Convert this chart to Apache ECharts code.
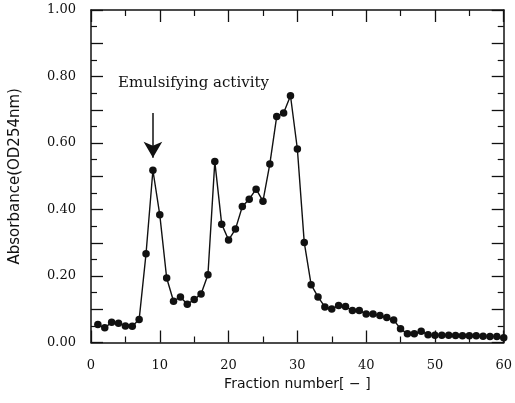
<!DOCTYPE html>
<html>
<head>
<meta charset="utf-8">
<script src="https://cdn.jsdelivr.net/npm/echarts@6/dist/echarts.min.js"></script>
<style>
html,body{margin:0;padding:0;background:#fff;}
#chart{width:515px;height:403px;}
</style>
</head>
<body>
<div id="chart"></div>
<script>
const fractions = [1,2,3,4,5,6,7,8,9,10,11,12,13,14,15,16,17,18,19,20,21,22,23,24,25,26,27,28,29,30,
  31,32,33,34,35,36,37,38,39,40,41,42,43,44,45,46,47,48,49,50,51,52,53,54,55,56,57,58,59,60];
const absorbance = [0.054,0.044,0.061,0.058,0.050,0.049,0.069,0.267,0.518,0.384,
  0.194,0.124,0.137,0.115,0.129,0.146,0.204,0.544,0.356,0.308,
  0.341,0.409,0.431,0.461,0.425,0.537,0.680,0.690,0.742,0.582,
  0.301,0.174,0.137,0.107,0.101,0.111,0.108,0.096,0.096,0.086,
  0.086,0.081,0.075,0.068,0.041,0.026,0.026,0.034,0.023,0.022,
  0.022,0.022,0.021,0.020,0.020,0.020,0.019,0.018,0.018,0.014];
const xTicks = [0,10,20,30,40,50,60];
const yTicks = [0.00,0.20,0.40,0.60,0.80,1.00];
const annotationText = 'Emulsifying activity';
const annotationAt = [14.9, 0.78];
const arrowFrom = [9, 0.69];
const arrowTo = [9, 0.556];

const data = fractions.map((f,i)=>[f, absorbance[i]]);
const black = '#111';
const tickFont = {fontFamily:'DejaVu Serif', fontSize:13, color:black};

function baseAxis(extra){
  return Object.assign({
    axisLine:{show:true, onZero:false, lineStyle:{color:black, width:1.5}},
    axisTick:{show:true, inside:true, length:12, lineStyle:{color:black, width:1.3}},
    minorTick:{show:true, splitNumber:2, length:6, lineStyle:{color:black, width:1.2}},
    splitLine:{show:false},
    minorSplitLine:{show:false}
  }, extra);
}

const chart = echarts.init(document.getElementById('chart'), null, {renderer:'canvas'});
chart.setOption({
  animation:false,
  backgroundColor:'#fff',
  grid:{left:90, right:4, top:10, bottom:60.5},
  xAxis:[
    baseAxis({type:'value', position:'bottom', min:xTicks[0], max:xTicks[xTicks.length-1], interval:10,
      axisLabel:Object.assign({margin:17, formatter:(v)=>xTicks.includes(v)?String(v):''}, tickFont),
      name:'Fraction number[ − ]', nameLocation:'middle', nameGap:32,
      nameTextStyle:{fontFamily:'DejaVu Sans', fontSize:14, color:black}}),
    baseAxis({type:'value', position:'top', min:0, max:60, interval:10, axisLabel:{show:false}})
  ],
  yAxis:[
    baseAxis({type:'value', position:'left', min:0, max:1, interval:0.1,
      axisLabel:Object.assign({margin:15, formatter:(v)=>{
        const r = Math.round(v*100)/100;
        return yTicks.some(t=>Math.abs(t-r)<1e-6) ? r.toFixed(2) : '';
      }}, tickFont),
      name:'Absorbance(OD254nm)', nameLocation:'middle', nameGap:68, nameRotate:90,
      nameTextStyle:{fontFamily:'DejaVu Sans', fontSize:15, color:black}}),
    baseAxis({type:'value', position:'right', min:0, max:1, interval:0.1, axisLabel:{show:false}})
  ],
  series:[{
    type:'line',
    data:data,
    symbol:'circle',
    symbolSize:7.5,
    itemStyle:{color:black},
    lineStyle:{color:black, width:1.4},
    markLine:{
      silent:true,
      symbol:['none','arrow'],
      symbolSize:[14,16],
      label:{show:false},
      lineStyle:{color:black, width:1.5, type:'solid'},
      data:[[{coord:arrowFrom},{coord:arrowTo}]]
    },
    markPoint:{
      symbol:'rect', symbolSize:1, itemStyle:{color:'rgba(0,0,0,0)'},
      label:{show:true, formatter:annotationText, fontFamily:'DejaVu Serif', fontSize:15, color:black,
        position:'inside'},
      data:[{coord:annotationAt}]
    }
  }]
});
</script>
</body>
</html>
